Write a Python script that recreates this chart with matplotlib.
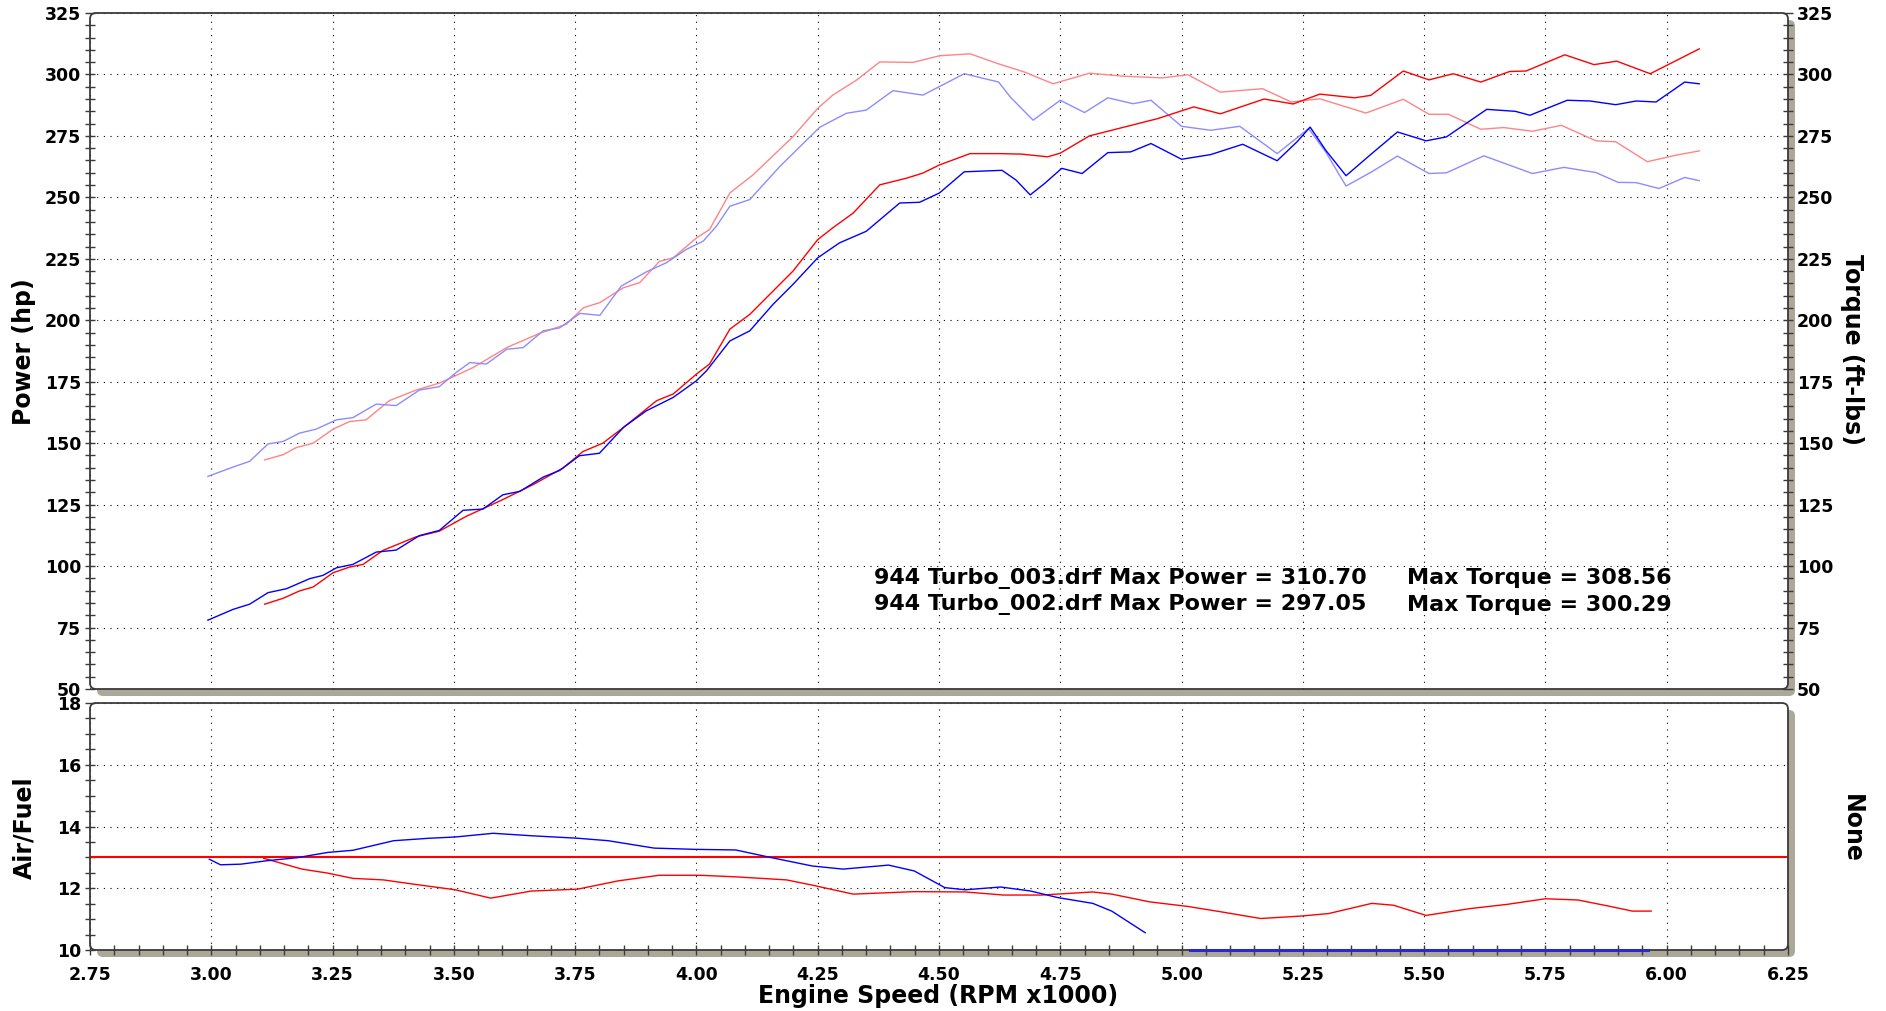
import numpy as np
import matplotlib
matplotlib.use('agg')
import matplotlib.pyplot as plt
from matplotlib.patches import FancyBboxPatch
from matplotlib.transforms import IdentityTransform
from matplotlib.ticker import MultipleLocator, FormatStrFormatter

# ---------------------------------------------------------------------------
# Dyno data (rpm x1000)
# run 002 (blue)
rpm_pw_002 = [2.993, 3.045, 3.079, 3.117, 3.155, 3.203, 3.230, 3.258, 3.292, 3.340,
              3.381, 3.429, 3.470, 3.519, 3.560, 3.601, 3.636, 3.684, 3.718, 3.759,
              3.800, 3.850, 3.897, 3.952, 4.000, 4.021, 4.069, 4.110, 4.158, 4.199,
              4.250, 4.295, 4.350, 4.419, 4.460, 4.501, 4.552, 4.630, 4.659, 4.688,
              4.718, 4.753, 4.795, 4.848, 4.895, 4.937, 5.000, 5.060, 5.126, 5.197,
              5.238, 5.265, 5.297, 5.339, 5.392, 5.445, 5.504, 5.546, 5.629, 5.688,
              5.718, 5.795, 5.842, 5.895, 5.937, 5.978, 6.037, 6.067]
power_002 = [78.0, 82.4, 84.5, 89.2, 90.8, 94.9, 96.2, 99.3, 100.7, 105.7,
             106.5, 112.4, 114.5, 122.7, 123.2, 129.0, 130.4, 136.2, 138.9, 144.9,
             145.9, 156.5, 163.2, 168.6, 175.4, 179.5, 191.6, 195.7, 206.5, 214.6,
             225.4, 231.5, 236.2, 247.7, 248.0, 251.8, 260.4, 261.0, 257.0, 251.0,
             255.7, 261.8, 259.7, 268.2, 268.5, 271.9, 265.5, 267.4, 271.6, 264.9,
             272.6, 278.6, 269.2, 258.8, 267.8, 276.6, 273.0, 274.6, 285.8, 285.0,
             283.4, 289.5, 289.2, 287.7, 289.2, 288.8, 296.9, 296.2]

rpm_tq_002 = [2.993, 3.045, 3.079, 3.117, 3.148, 3.182, 3.216, 3.258, 3.292, 3.340,
              3.381, 3.429, 3.470, 3.505, 3.533, 3.567, 3.609, 3.643, 3.684, 3.718,
              3.760, 3.801, 3.845, 3.897, 3.938, 3.979, 4.014, 4.041, 4.069, 4.110,
              4.172, 4.254, 4.309, 4.350, 4.405, 4.467, 4.552, 4.623, 4.647, 4.694,
              4.750, 4.800, 4.848, 4.900, 4.937, 5.000, 5.060, 5.120, 5.197, 5.262,
              5.297, 5.339, 5.392, 5.445, 5.510, 5.546, 5.623, 5.723, 5.788, 5.854,
              5.900, 5.937, 5.984, 6.037, 6.067]
torque_002 = [136.5, 140.3, 142.6, 149.7, 150.7, 154.1, 155.7, 159.5, 160.4, 165.9,
              165.3, 171.6, 173.0, 178.8, 182.8, 182.2, 188.2, 188.9, 195.7, 196.9,
              202.8, 202.0, 213.9, 219.7, 223.4, 228.8, 232.2, 238.2, 246.4, 249.1,
              262.6, 278.5, 284.2, 285.5, 293.4, 291.6, 300.3, 296.9, 290.8, 281.4,
              289.5, 284.5, 290.5, 288.1, 289.5, 278.9, 277.3, 278.9, 267.8, 278.0,
              268.5, 254.6, 260.4, 266.8, 259.7, 260.0, 266.9, 259.7, 262.2, 260.1,
              256.1, 256.0, 253.6, 258.1, 256.8]

# run 003 (red)
rpm_pw_003 = [3.110, 3.148, 3.182, 3.210, 3.251, 3.285, 3.313, 3.354, 3.422, 3.470,
              3.526, 3.594, 3.663, 3.725, 3.766, 3.807, 3.849, 3.918, 3.952, 4.000,
              4.027, 4.069, 4.110, 4.158, 4.199, 4.250, 4.281, 4.323, 4.378, 4.433,
              4.467, 4.501, 4.564, 4.623, 4.670, 4.724, 4.750, 4.810, 4.870, 4.950,
              5.025, 5.080, 5.170, 5.230, 5.285, 5.357, 5.390, 5.457, 5.510, 5.560,
              5.617, 5.676, 5.710, 5.790, 5.850, 5.897, 5.966, 6.020, 6.067]
power_003 = [84.5, 86.9, 89.9, 91.5, 97.3, 99.6, 100.7, 106.4, 111.9, 114.2,
             120.3, 126.4, 133.1, 139.9, 146.6, 150.0, 156.3, 167.3, 170.0, 178.1,
             182.2, 196.4, 202.4, 211.9, 220.0, 232.8, 237.6, 243.6, 255.1, 257.8,
             259.9, 263.2, 267.8, 267.8, 267.6, 266.5, 268.0, 275.0, 278.0, 282.0,
             286.8, 284.0, 290.0, 288.0, 292.0, 290.5, 291.5, 301.4, 297.8, 300.3,
             296.9, 301.2, 301.4, 308.0, 304.0, 305.4, 300.3, 305.7, 310.4]

rpm_tq_003 = [3.110, 3.148, 3.175, 3.210, 3.251, 3.285, 3.319, 3.367, 3.422, 3.471,
              3.540, 3.609, 3.677, 3.732, 3.767, 3.801, 3.849, 3.883, 3.924, 3.952,
              4.000, 4.027, 4.069, 4.117, 4.199, 4.250, 4.281, 4.330, 4.378, 4.446,
              4.501, 4.564, 4.623, 4.676, 4.735, 4.810, 4.880, 4.960, 5.013, 5.080,
              5.167, 5.226, 5.285, 5.380, 5.457, 5.510, 5.550, 5.617, 5.664, 5.723,
              5.783, 5.854, 5.895, 5.960, 6.020, 6.067]
torque_003 = [143.2, 145.3, 148.2, 150.0, 155.7, 158.8, 159.5, 167.3, 171.6, 174.5,
              180.8, 188.9, 194.7, 198.4, 205.1, 207.2, 213.2, 215.3, 224.0, 225.4,
              233.5, 236.9, 251.8, 259.2, 274.7, 286.2, 291.6, 297.7, 305.1, 304.9,
              307.6, 308.4, 304.3, 301.0, 296.2, 300.5, 299.3, 298.6, 299.9, 292.8,
              294.2, 288.8, 290.1, 284.3, 289.9, 283.8, 283.8, 277.7, 278.4, 276.9,
              279.3, 273.0, 272.6, 264.5, 267.2, 268.9]

# air/fuel ratio
rpm_afr_002 = [2.996, 3.019, 3.061, 3.114, 3.177, 3.240, 3.292, 3.376, 3.450, 3.503,
               3.581, 3.660, 3.755, 3.818, 3.913, 3.997, 4.081, 4.155, 4.239, 4.302,
               4.396, 4.449, 4.512, 4.554, 4.627, 4.689, 4.744, 4.817, 4.856, 4.925]
afr_002 = [12.94, 12.76, 12.78, 12.89, 12.99, 13.16, 13.23, 13.54, 13.62, 13.66,
           13.78, 13.70, 13.62, 13.54, 13.30, 13.26, 13.24, 12.99, 12.72, 12.62,
           12.75, 12.56, 12.02, 11.95, 12.04, 11.91, 11.70, 11.51, 11.26, 10.56]
# second part of the 002 AFR trace sits on the floor of the scale
rpm_afr_002_floor = [5.018, 5.962]
afr_002_floor = [10.0, 10.0]

rpm_afr_003 = [3.108, 3.187, 3.240, 3.292, 3.355, 3.418, 3.503, 3.576, 3.660, 3.755,
               3.839, 3.923, 4.007, 4.081, 4.186, 4.239, 4.323, 4.449, 4.554, 4.633,
               4.711, 4.817, 4.856, 4.934, 5.013, 5.080, 5.163, 5.247, 5.303, 5.392,
               5.437, 5.504, 5.594, 5.672, 5.750, 5.817, 5.884, 5.929, 5.968]
afr_003 = [12.97, 12.62, 12.49, 12.32, 12.27, 12.13, 11.95, 11.68, 11.91, 11.97,
           12.24, 12.42, 12.42, 12.37, 12.27, 12.10, 11.81, 11.89, 11.88, 11.78,
           11.78, 11.88, 11.81, 11.56, 11.41, 11.24, 11.02, 11.10, 11.18, 11.51,
           11.45, 11.12, 11.34, 11.48, 11.66, 11.62, 11.41, 11.26, 11.26]

afr_target = 13.0

legend_rows = [('944 Turbo_003.drf Max Power = 310.70', 'Max Torque = 308.56'),
               ('944 Turbo_002.drf Max Power = 297.05', 'Max Torque = 300.29')]

# ---------------------------------------------------------------------------
plt.rcParams['font.family'] = 'DejaVu Sans'
plt.rcParams['font.weight'] = 'bold'

W, H, DPI = 1886, 1011, 100
fig = plt.figure(figsize=(W / DPI, H / DPI), dpi=DPI)
fig.patch.set_facecolor('white')

SHADOW = '#aca899'
FRAME = '#3a3a3a'

def panel(left, top, right, bottom):
    # boxes are given in image pixels (origin top-left)
    b = H - bottom
    t = H - top
    ax = fig.add_axes([left / W, b / H, (right - left) / W, (t - b) / H])
    ax.set_facecolor('none')
    for s in ax.spines.values():
        s.set_visible(False)
    # drop shadow + white rounded body behind the axes, frame on top
    style = 'round,pad=0,rounding_size=6'
    fig.add_artist(FancyBboxPatch((left + 7, b - 7), right - left, t - b, boxstyle=style,
                                  transform=IdentityTransform(), fc=SHADOW, ec='none', zorder=-2))
    fig.add_artist(FancyBboxPatch((left, b), right - left, t - b, boxstyle=style,
                                  transform=IdentityTransform(), fc='white', ec='none', zorder=-1))
    ax.add_artist(FancyBboxPatch((left, b), right - left, t - b, boxstyle=style,
                                 transform=IdentityTransform(), fill=False, ec=FRAME,
                                 lw=1.3, clip_on=False, zorder=5))
    ax.grid(True, which='major', color='black', linestyle=(0, (1, 5)), lw=0.8)
    ax.set_axisbelow(True)
    return ax

ax1 = panel(90, 13, 1788, 689)
ax2 = panel(90, 703, 1788, 950)

# --- power / torque panel ---
ax1.plot(rpm_tq_003, torque_003, color='#ff8484', lw=1.0, zorder=3)
ax1.plot(rpm_tq_002, torque_002, color='#8c8cff', lw=1.0, zorder=3)
ax1.plot(rpm_pw_003, power_003, color='#ff0000', lw=1.0, zorder=4)
ax1.plot(rpm_pw_002, power_002, color='#0000ff', lw=1.0, zorder=4)

ax1.set_xlim(2.75, 6.25)
ax1.set_ylim(50, 325)
ax1.xaxis.set_major_locator(MultipleLocator(0.25))
ax1.yaxis.set_major_locator(MultipleLocator(25))
ax1.yaxis.set_minor_locator(MultipleLocator(5))
ax1.tick_params(axis='x', which='both', bottom=False, labelbottom=False)
ax1.tick_params(axis='y', which='both', direction='inout', length=7, width=1, color=FRAME,
                left=True, right=True, labelleft=True, labelright=True,
                labelsize=12.5, pad=3)

for i, (left_txt, right_txt) in enumerate(legend_rows):
    y = [95.1, 84.3][i]
    ax1.text(4.365, y, left_txt, fontsize=16, fontweight='bold', va='center', ha='left', zorder=6)
    ax1.text(5.464, y, right_txt, fontsize=16, fontweight='bold', va='center', ha='left', zorder=6)

# --- air/fuel panel ---
ax2.axhline(afr_target, color='#ff0000', lw=1.5, zorder=3)
ax2.plot(rpm_afr_003, afr_003, color='#ff0000', lw=1.0, zorder=4)
ax2.plot(rpm_afr_002, afr_002, color='#0000ff', lw=1.0, zorder=4)
ax2.plot(rpm_afr_002_floor, afr_002_floor, color='#2a2acc', lw=2.2, zorder=6, clip_on=False)

ax2.set_xlim(2.75, 6.25)
ax2.set_ylim(10, 18)
ax2.xaxis.set_major_locator(MultipleLocator(0.25))
ax2.xaxis.set_minor_locator(MultipleLocator(0.05))
ax2.xaxis.set_major_formatter(FormatStrFormatter('%.2f'))
ax2.yaxis.set_major_locator(MultipleLocator(2))
ax2.yaxis.set_minor_locator(MultipleLocator(0.5))
ax2.tick_params(axis='both', which='both', direction='inout', length=7, width=1, color=FRAME,
                labelsize=12.5)
ax2.tick_params(axis='x', pad=8)
ax2.tick_params(axis='y', pad=3)

# axis titles
fig.text(24 / W, 1 - 352 / H, 'Power (hp)', rotation=90, ha='center', va='center',
         fontsize=17, fontweight='bold')
fig.text(1852 / W, 1 - 349 / H, 'Torque (ft-lbs)', rotation=270, ha='center', va='center',
         fontsize=17, fontweight='bold')
fig.text(24 / W, 1 - 828 / H, 'Air/Fuel', rotation=90, ha='center', va='center',
         fontsize=17, fontweight='bold')
fig.text(1852 / W, 1 - 828 / H, 'None', rotation=270, ha='center', va='center',
         fontsize=17, fontweight='bold')
fig.text(938 / W, 1 - 996 / H, 'Engine Speed (RPM x1000)', ha='center', va='center',
         fontsize=17, fontweight='bold')

fig.savefig('out.png', dpi=DPI)
plt.close(fig)
